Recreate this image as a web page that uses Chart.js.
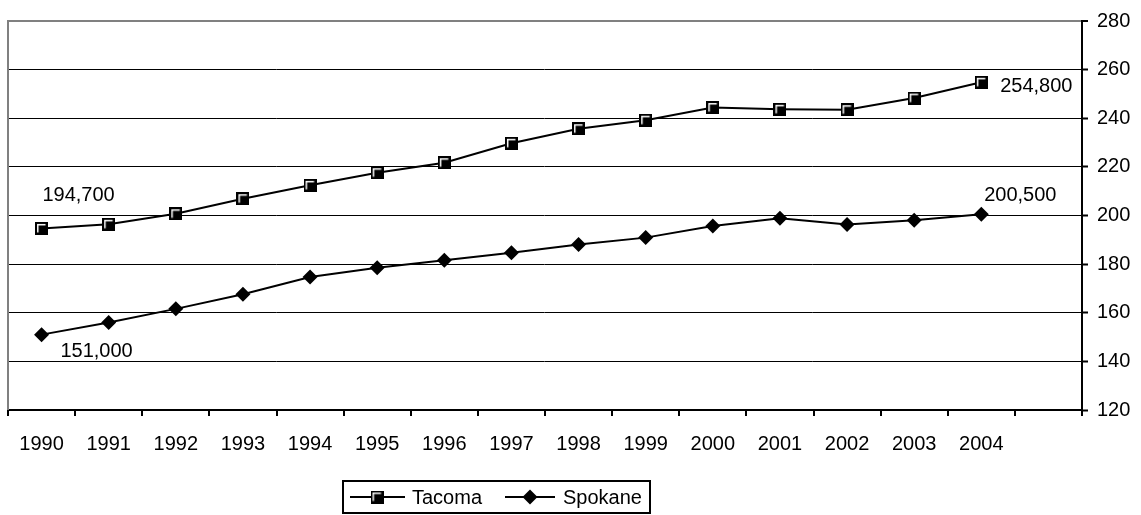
<!DOCTYPE html>
<html>
<head>
<meta charset="utf-8">
<script src="https://cdn.jsdelivr.net/npm/chart.js@4/dist/chart.umd.min.js"></script>
<style>
  html, body { margin: 0; padding: 0; background: #fff; }
  #wrap { width: 1141px; height: 515px; }
</style>
</head>
<body>
<div id="wrap"><canvas id="chart" width="1141" height="515"></canvas></div>
<script>
// values in thousands of residents
const years = ["1990", "1991", "1992", "1993", "1994", "1995", "1996", "1997",
  "1998", "1999", "2000", "2001", "2002", "2003", "2004"]
const tacoma = [194.7, 196.4, 200.7, 206.9, 212.4, 217.6, 221.7, 229.7,
  235.7, 239.2, 244.4, 243.7, 243.5, 248.3, 254.8]
const spokane = [151.0, 156.0, 161.6, 167.6, 174.7, 178.5, 181.6, 184.7,
  188.1, 190.9, 195.7, 198.9, 196.3, 198.0, 200.5]
const yTicks = [120, 140, 160, 180, 200, 220, 240, 260, 280]

const FONT = "\"Liberation Sans\", Arial, sans-serif"
Chart.defaults.font.family = FONT
Chart.defaults.font.size = 20
Chart.defaults.color = "#000"

// square marker with the white bevel in the top-left corner
function squareMarker() {
  const c = document.createElement("canvas")
  c.width = 13
  c.height = 13
  const g = c.getContext("2d")
  g.fillStyle = "#000"
  g.fillRect(0, 0, 13, 13)
  g.strokeStyle = "#fff"
  g.lineWidth = 1.5
  g.beginPath()
  g.moveTo(2.75, 10.5)
  g.lineTo(2.75, 2.75)
  g.lineTo(10.5, 2.75)
  g.stroke()
  return c
}
const square = squareMarker()

function fmt(v) {
  return Math.round(v * 1000).toLocaleString("en-US")
}

// end-point labels: dataset, index, offset of the text centre
const endLabels = [
  { ds: 0, i: 0, dx: 37, dy: -33 },
  { ds: 0, i: tacoma.length - 1, dx: 55, dy: 4 },
  { ds: 1, i: 0, dx: 55, dy: 17 },
  { ds: 1, i: spokane.length - 1, dx: 39, dy: -19 }
]

const framePlugin = {
  id: "frame",
  beforeDatasetsDraw(chart) {
    const { ctx, chartArea } = chart
    ctx.save()
    ctx.strokeStyle = "#808080"
    ctx.lineWidth = 2
    ctx.beginPath()
    ctx.moveTo(chartArea.left, chartArea.top - 1)
    ctx.lineTo(chartArea.left, chartArea.bottom)
    ctx.stroke()
    ctx.restore()
  },
  afterDatasetsDraw(chart) {
    const ctx = chart.ctx
    ctx.save()
    ctx.font = "20px " + FONT
    ctx.fillStyle = "#000"
    ctx.textAlign = "center"
    ctx.textBaseline = "middle"
    endLabels.forEach(l => {
      const pt = chart.getDatasetMeta(l.ds).data[l.i]
      const v = chart.data.datasets[l.ds].data[l.i]
      ctx.fillText(fmt(v), pt.x + l.dx, pt.y + l.dy)
    })
    ctx.restore()
  },
  afterDraw(chart) {
    const ctx = chart.ctx
    ctx.save()
    ctx.strokeStyle = "#000"
    ctx.lineWidth = 2
    ctx.strokeRect(343, 481, 307, 32)
    const cy = 497
    ctx.beginPath()
    ctx.moveTo(350, cy); ctx.lineTo(405, cy)
    ctx.moveTo(505, cy); ctx.lineTo(555, cy)
    ctx.stroke()
    ctx.drawImage(square, 377 - 6.5, cy - 6.5)
    ctx.fillStyle = "#000"
    ctx.beginPath()
    ctx.moveTo(530, cy - 7.5); ctx.lineTo(537.5, cy); ctx.lineTo(530, cy + 7.5); ctx.lineTo(522.5, cy)
    ctx.closePath()
    ctx.fill()
    ctx.font = "20px " + FONT
    ctx.textBaseline = "middle"
    ctx.textAlign = "left"
    ctx.fillText(chart.data.datasets[0].label, 412, cy + 1)
    ctx.fillText(chart.data.datasets[1].label, 563, cy + 1)
    ctx.restore()
  }
}

new Chart(document.getElementById("chart"), {
  type: "line",
  data: {
    labels: [...years, ""],
    datasets: [
      {
        label: "Tacoma",
        data: tacoma,
        borderColor: "#000",
        borderWidth: 2,
        pointStyle: square,
        tension: 0
      },
      {
        label: "Spokane",
        data: spokane,
        borderColor: "#000",
        backgroundColor: "#000",
        borderWidth: 2,
        pointStyle: "rectRot",
        pointRadius: 7.5,
        pointBorderWidth: 0,
        pointBackgroundColor: "#000",
        tension: 0
      }
    ]
  },
  options: {
    responsive: false,
    animation: false,
    devicePixelRatio: 1,
    layout: { padding: { left: 8, top: 10, right: 0, bottom: 0 } },
    plugins: {
      legend: { display: false },
      tooltip: { enabled: false }
    },
    scales: {
      x: {
        offset: true,
        grid: {
          offset: true,
          drawOnChartArea: false,
          tickLength: 6,
          color: "#000",
          lineWidth: 2
        },
        border: { color: "#000", width: 2 },
        ticks: { padding: 16, maxRotation: 0, autoSkip: false, color: "#000" },
        afterFit(scale) { scale.height = 105 }
      },
      y: {
        position: "right",
        min: yTicks[0],
        max: yTicks[yTicks.length - 1],
        afterBuildTicks(scale) { scale.ticks = yTicks.map(v => ({ value: v })) },
        ticks: { padding: 9, color: "#000" },
        grid: {
          color: c => (c.tick && c.tick.value === 280 ? "#808080" : "#000"),
          lineWidth: c => (c.tick && c.tick.value === 280 ? 2 : 1),
          tickLength: 6,
          tickColor: "#000",
          tickWidth: 2
        },
        border: { color: "#000", width: 2 },
        afterFit(scale) { scale.width = 59 }
      }
    }
  },
  plugins: [framePlugin]
})
</script>
</body>
</html>
